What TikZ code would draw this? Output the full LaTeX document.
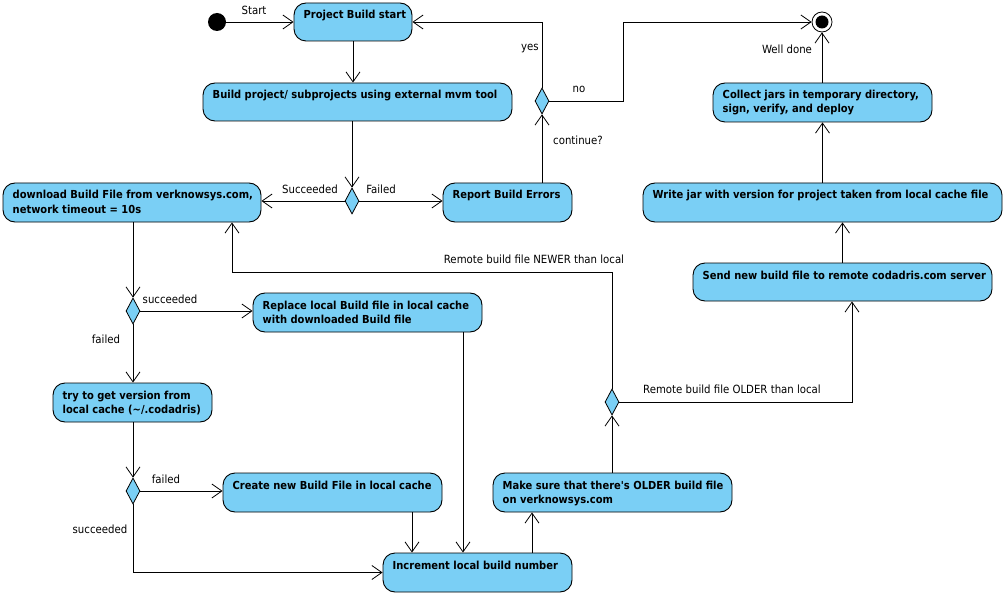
\documentclass[tikz,border=0pt]{standalone}
\usepackage{fontspec}
\setmainfont{DejaVu Sans Condensed}
\usetikzlibrary{arrows.meta,shapes.geometric}
\definecolor{actfill}{HTML}{7ACFF5}
\newcommand\actnode[6]{%
  \node[act, minimum width={#4-#2}, minimum height={#5-#3}] (#1) at ({(#2+#4)/2},{(#3+#5)/2}) {};
  \node[acttext] (#1t) at ({#2+9.5},{#3+6}) {\strut #6};
}
\begin{document}
\begin{tikzpicture}[x=1pt,y=-1pt,
  act/.style={draw=black, fill=actfill, rounded corners=12pt, line width=0.9pt, inner sep=0pt},
  acttext/.style={anchor=north west, inner sep=0pt, align=left, font=\bfseries\fontsize{11.05}{14}\selectfont},
  dec/.style={draw=black, fill=actfill, diamond, inner sep=0pt, minimum width=14pt, minimum height=26pt, line width=0.8pt},
  lbl/.style={inner sep=0pt, font=\fontsize{11.3}{13}\selectfont},
  flow/.style={draw=black, line width=0.8pt, -{Straight Barb[length=10pt,width=14pt]}},
]
\fill[white] (0,0) rectangle (1006,596);
\useasboundingbox (0,0) rectangle (1006,596);

% activities
\actnode{pbs}{294}{3}{412}{41}{Project Build start}
\actnode{build}{203}{83}{512}{121}{Build project/ subprojects using external mvm tool}
\actnode{dl}{3}{183}{261}{222}{download Build File from verknowsys.com,\\network timeout = 10s}
\actnode{rep}{443}{183}{572}{222}{Report Build Errors}
\actnode{col}{713}{83}{932}{122}{Collect jars in temporary directory,\\sign, verify, and deploy}
\actnode{wj}{643}{183}{1002}{222}{Write jar with version for project taken from local cache file}
\actnode{sb}{693}{263}{992}{301}{Send new build file to remote codadris.com server}
\actnode{rpl}{253}{293}{482}{332}{Replace local Build file in local cache\\with downloaded Build file}
\actnode{try}{53}{383}{212}{422}{try to get version from\\local cache (\textasciitilde/.codadris)}
\actnode{cr}{223}{473}{442}{512}{Create new Build File in local cache}
\actnode{inc}{383}{553}{572}{592}{Increment local build number}
\actnode{ms}{493}{473}{732}{512}{Make sure that there\textquotesingle s OLDER build file\\on verknowsys.com}

% initial / final
\node[circle, fill=black, minimum size=18pt, inner sep=0pt] (start) at (217,22) {};
\node[circle, draw=black, fill=white, line width=0.8pt, minimum size=20pt, inner sep=0pt] (fin) at (822,22) {};
\node[circle, fill=black, minimum size=13pt, inner sep=0pt] (finin) at (fin) {};

% decisions
\node[dec] (d1) at (352,201) {};
\node[dec] (d2) at (542,101) {};
\node[dec] (d3) at (612,402) {};
\node[dec] (d4) at (133,311) {};
\node[dec] (d5) at (133,491) {};

% bend coordinates
\coordinate (nobend) at (623,22);
\coordinate (newerbend) at (232,272);
\coordinate (olderbend) at (852,402);
\coordinate (msin) at (532,553);
\coordinate (rplout) at (463,332);
\coordinate (crout) at (412,512);

% connectors
\draw[flow] (start) -- (pbs.west);
\draw[flow] (pbs.south) -- (pbs.south |- build.north);
\draw[flow] (d1.north |- build.south) -- (d1.north);
\draw[flow] (d1.west) -- (d1.west -| dl.east);
\draw[flow] (d1.east) -- (d1.east -| rep.west);
\draw[flow] (d2.south |- rep.north) -- (d2.south);
\draw[flow] (d2.north) |- (pbs.east);
\draw[flow] (d2.east) -| (nobend) -- (fin.west);
\draw[flow] (fin.south |- col.north) -- (fin.south);
\draw[flow] (wj.north) -- (wj.north |- col.south);
\draw[flow] (sb.north) -- (sb.north |- wj.south);
\draw[flow] (d3.east) -- (olderbend) -- (olderbend |- sb.south);
\draw[flow] (d3.north) |- (newerbend) -- (newerbend |- dl.south);
\draw[flow] (d3.south |- ms.north) -- (d3.south);
\draw[flow] (msin) -- (msin |- ms.south);
\draw[flow] (d4.north |- dl.south) -- (d4.north);
\draw[flow] (d4.east) -- (d4.east -| rpl.west);
\draw[flow] (d4.south) -- (d4.south |- try.north);
\draw[flow] (rplout) -- (rplout |- inc.north);
\draw[flow] (d5.north |- try.south) -- (d5.north);
\draw[flow] (d5.east) -- (d5.east -| cr.west);
\draw[flow] (d5.south) |- (inc.west);
\draw[flow] (crout) -- (crout |- inc.north);

% labels
\node[lbl] (lstart) at (254,10) {Start};
\node[lbl] (lyes) at (530,49) {yes};
\node[lbl] (lno) at (579,89) {no};
\node[lbl] (lcont) at (578,140) {continue?};
\node[lbl] (lwell) at (787,49) {Well done};
\node[lbl] (lsucc1) at (310,189) {Succeeded};
\node[lbl] (lfail1) at (381,189) {Failed};
\node[lbl] (lnewer) at (534,259) {Remote build file NEWER than local};
\node[lbl] (lolder) at (732,389) {Remote build file OLDER than local};
\node[lbl] (lsucc2) at (170,299) {succeeded};
\node[lbl] (lfail2) at (106,339) {failed};
\node[lbl] (lfail3) at (166,479) {failed};
\node[lbl] (lsucc3) at (100,529) {succeeded};
\end{tikzpicture}
\end{document}
